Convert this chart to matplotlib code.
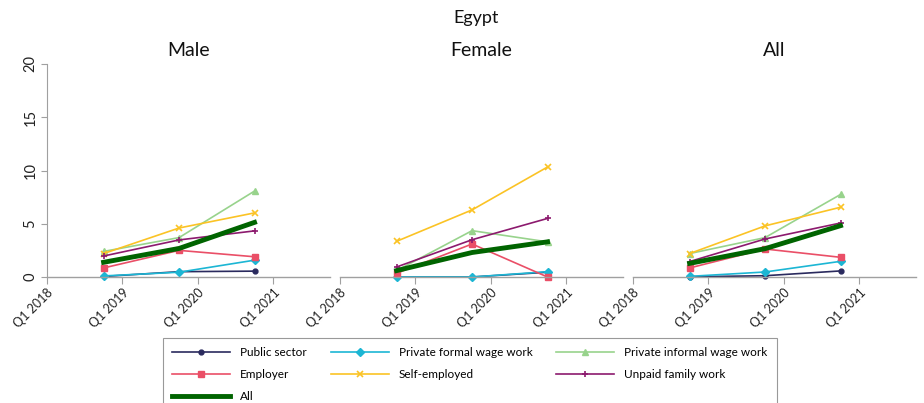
import matplotlib
matplotlib.use("Agg")
import matplotlib.pyplot as plt
from matplotlib.lines import Line2D

plt.rcParams['font.family'] = ['Lato', 'DejaVu Sans']

# Quarters observed (Q4 of each year, as decimal years)
quarters = [2018.75, 2019.75, 2020.75]
tick_years = [2018, 2019, 2020, 2021]
tick_labels = ["Q1 2018", "Q1 2019", "Q1 2020", "Q1 2021"]

panels = ["Male", "Female", "All"]
series_names = ["Public sector", "Private formal wage work", "Private informal wage work",
                "Employer", "Self-employed", "Unpaid family work", "All"]

male = {
    "Public sector": [0.05, 0.5, 0.55],
    "Private formal wage work": [0.1, 0.45, 1.58],
    "Private informal wage work": [2.4, 3.7, 8.07],
    "Employer": [0.85, 2.5, 1.9],
    "Self-employed": [2.2, 4.6, 6.02],
    "Unpaid family work": [1.97, 3.48, 4.33],
    "All": [1.38, 2.68, 5.13],
}
female = {
    "Public sector": [0.0, 0.0, 0.45],
    "Private formal wage work": [0.0, 0.0, 0.5],
    "Private informal wage work": [0.6, 4.35, 3.3],
    "Employer": [0.35, 3.1, 0.0],
    "Self-employed": [3.35, 6.3, 10.33],
    "Unpaid family work": [0.94, 3.5, 5.5],
    "All": [0.6, 2.3, 3.3],
}
both = {
    "Public sector": [0.02, 0.12, 0.57],
    "Private formal wage work": [0.06, 0.47, 1.47],
    "Private informal wage work": [2.2, 3.7, 7.75],
    "Employer": [0.85, 2.63, 1.85],
    "Self-employed": [2.2, 4.8, 6.55],
    "Unpaid family work": [1.45, 3.57, 5.07],
    "All": [1.28, 2.66, 4.82],
}
panel_data = [male, female, both]

styles = {
    "Public sector": dict(color="#2a2a5e", marker="o", ms=3.5, lw=1.2),
    "Private formal wage work": dict(color="#1cb6d4", marker="D", ms=4.5, lw=1.2),
    "Private informal wage work": dict(color="#98d38c", marker="^", ms=5, lw=1.2),
    "Employer": dict(color="#ea4f67", marker="s", ms=4.5, lw=1.2),
    "Self-employed": dict(color="#fbc325", marker="x", ms=4, lw=1.2, mew=1.2),
    "Unpaid family work": dict(color="#8c1a6e", marker="+", ms=5, lw=1.2, mew=1.2),
    "All": dict(color="#006400", marker=None, lw=3.5),
}

fig = plt.figure(figsize=(9.24, 4.03), dpi=100)
W, H = 924, 403
lefts = [47, 340, 633]
width = 283
bottom_px, top_px = 277, 64
axes = []
for i, (name, data) in enumerate(zip(panels, panel_data)):
    ax = fig.add_axes([lefts[i] / W, 1 - bottom_px / H, width / W, (bottom_px - top_px) / H])
    axes.append(ax)
    for s in series_names:
        st = dict(styles[s])
        ax.plot(quarters, data[s], color=st.pop("color"), marker=st.pop("marker"),
                markersize=st.pop("ms", 0), linewidth=st.pop("lw"),
                markeredgewidth=st.pop("mew", 1.0), label=s, zorder=3 if s == "All" else 2,
                clip_on=False)
    ax.set_xlim(2018, 2021.75)
    ax.set_ylim(0, 20)
    ax.set_xticks(tick_years)
    ax.set_xticklabels(tick_labels, rotation=45, ha="right", rotation_mode="anchor",
                       fontsize=9, color="#222222")
    ax.tick_params(axis="x", direction="out", length=5, color="#a0a0a0", pad=2)
    for sp in ["top", "right"]:
        ax.spines[sp].set_visible(False)
    ax.spines["bottom"].set_color("#a0a0a0")
    ax.spines["bottom"].set_linewidth(1.0)
    if i == 0:
        ax.spines["left"].set_color("#a0a0a0")
        ax.set_yticks([0, 5, 10, 15, 20])
        ax.set_yticklabels(["0", "5", "10", "15", "20"], rotation=90, va="center",
                           fontsize=10.5, color="#222222")
        ax.tick_params(axis="y", direction="out", length=4, color="#a0a0a0", pad=3)
    else:
        ax.spines["left"].set_visible(False)
        ax.set_yticks([])
    ax.set_title(name, fontsize=14, pad=6, color="#111111")

fig.text(476 / W, 1 - 18 / H, "Egypt", ha="center", va="center", fontsize=13, color="#111111")

handles = []
for s in series_names:
    st = styles[s]
    handles.append(Line2D([], [], color=st["color"], marker=st["marker"],
                          markersize=st.get("ms", 0), linewidth=st["lw"],
                          markeredgewidth=st.get("mew", 1.0), label=s))
order = [0, 3, 6, 1, 4, 2, 5]
leg = fig.legend([handles[k] for k in order], [series_names[k] for k in order],
                 ncol=3, loc="upper left", bbox_to_anchor=(163 / W, 1 - 338 / H),
                 frameon=True, fancybox=False, edgecolor="#808080", fontsize=8.5,
                 handlelength=4.9, columnspacing=2.0, handletextpad=0.85,
                 borderpad=0.8, labelspacing=0.92, borderaxespad=0)
leg.get_frame().set_linewidth(0.8)

fig.savefig("out.png", dpi=100)
